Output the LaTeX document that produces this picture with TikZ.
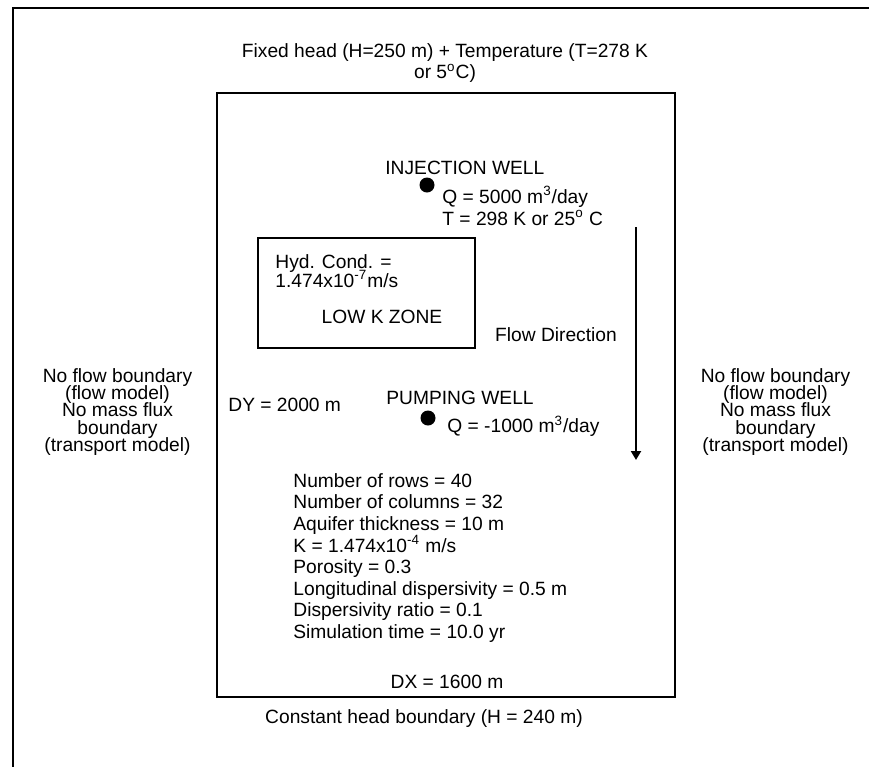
\documentclass[tikz,border=0pt]{standalone}
\usepackage{fontspec}
\setmainfont{Liberation Sans}
\usetikzlibrary{arrows.meta, positioning}
\newcommand\tightlines{\lineskiplimit=-20pt\relax}
\tikzset{
  base_font/.style = {font=\fontsize{9.6}{11}\selectfont},
  side_font/.style = {font=\fontsize{9.6}{8.65}\selectfont\tightlines},
  list_font/.style = {font=\fontsize{9.6}{10.8}\selectfont\tightlines},
  well_font/.style = {font=\fontsize{9.6}{11}\selectfont\tightlines},
  zone_font/.style = {font=\fontsize{9.6}{9.4}\selectfont\tightlines}
}
\tikzset{
  txt/.style = {base_font, inner sep=0},
  side_txt/.style = {side_font, inner sep=0, align=center, anchor=north},
  list_txt/.style = {list_font, inner sep=0, align=left, anchor=north west},
  well_txt/.style = {well_font, inner sep=0, align=left, anchor=north west},
  zone_txt/.style = {zone_font, inner sep=0, align=left, anchor=north west},
  well_dot/.style = {circle, fill=black, inner sep=0, minimum size=7.5pt},
  frame_line/.style = {line width=1.35pt},
  boundary/.style = {line width=1.1pt},
  zone_line/.style = {line width=0.9pt},
  flow_arrow/.style = {line width=1pt, -{Triangle[width=5pt,length=4.5pt]}}
}

\begin{document}
\begin{tikzpicture}[x=0.5pt, y=-0.5pt]
    \useasboundingbox (0,0) rectangle (869,767);

    % Frames
    \draw[frame_line] (13,800) -- (13,8) -- (900,8);
    \draw[boundary] (217,93) rectangle (675,697);
    \draw[zone_line] (258,238) rectangle (475,348);

    % Boundary conditions
    \node[side_txt, font=\fontsize{9.6}{10.5}\selectfont] (top_bc) at (445,43) {
        Fixed head (H=250 m) + Temperature (T=278 K\\
        or 5\textsuperscript{o}C)};
    \node[side_txt] (left_bc) at (117.5,368) {
        No flow boundary\\ (flow model)\\ No mass flux\\ boundary\\ (transport model)};
    \node[side_txt] (right_bc) at (775.5,368) {
        No flow boundary\\ (flow model)\\ No mass flux\\ boundary\\ (transport model)};
    \node[txt] (bottom_bc) at (424,719) {Constant head boundary (H = 240 m)};

    % Dimensions
    \node[txt, anchor=west] (dy_label) at (228,405) {DY = 2000 m};
    \node[txt] (dx_label) at (447,682) {DX = 1600 m};

    % Wells
    \node[well_dot] (inj_well) at (427,185) {};
    \node[txt, anchor=west] (inj_title) at (385,168) {INJECTION WELL};
    \node[well_txt] (inj_info) at (442,186) {
        Q = 5000 m\textsuperscript{3}/day\\
        T = 298 K or 25\textsuperscript{o} C};
    \node[well_dot] (pump_well) at (428,418) {};
    \node[txt, anchor=west] (pump_title) at (386,398) {PUMPING WELL};
    \node[txt, anchor=west] (pump_info) at (447,426) {Q = -1000 m\textsuperscript{3}/day};

    % Low K zone
    \node[zone_txt] (lowk_info) at (275,254) {
        Hyd. Cond. =\\
        1.474x10\textsuperscript{-7}m/s};
    \node[txt] (lowk_name) at (382,317) {LOW K ZONE};

    % Flow direction
    \coordinate (flow_start) at (636,227);
    \coordinate (flow_end) at (636,460);
    \draw[flow_arrow] (flow_start) -- (flow_end);
    \node[txt] (flow_label) at (556,335) {Flow Direction};

    % Model parameters
    \node[list_txt] (params) at (293,473) {
        Number of rows = 40\\
        Number of columns = 32\\
        Aquifer thickness = 10 m\\
        K = 1.474x10\textsuperscript{-4} m/s\\
        Porosity = 0.3\\
        Longitudinal dispersivity = 0.5 m\\
        Dispersivity ratio = 0.1\\
        Simulation time = 10.0 yr};
\end{tikzpicture}
\end{document}
